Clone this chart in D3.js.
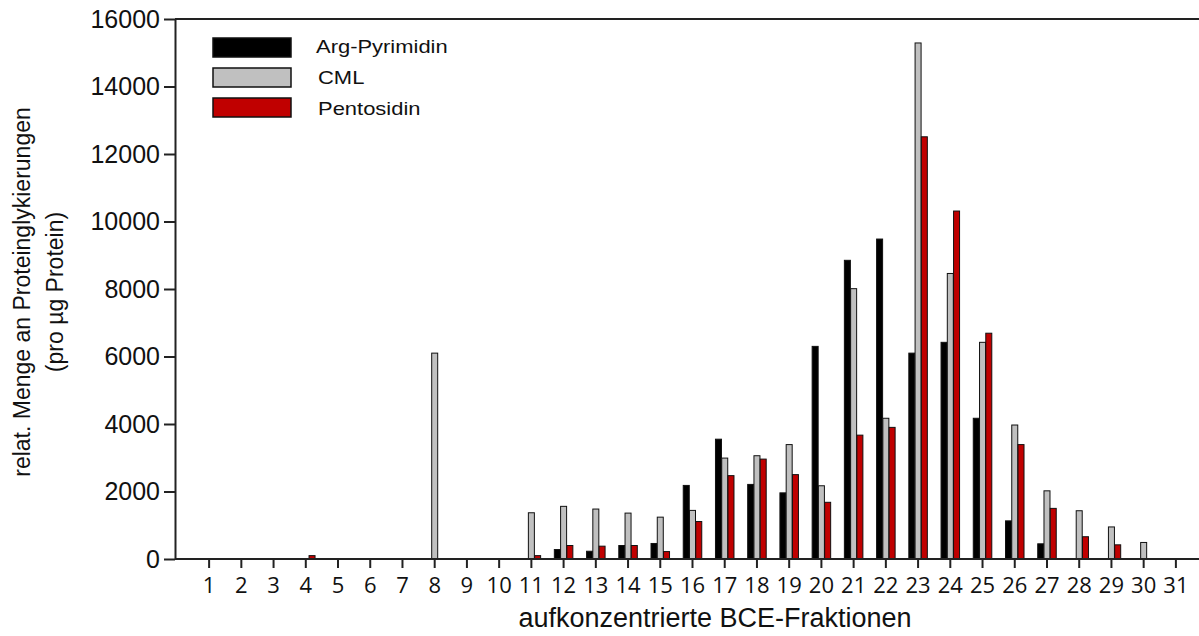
<!DOCTYPE html>
<html>
<head>
<meta charset="utf-8">
<script src="https://cdn.jsdelivr.net/npm/d3@7"></script>
<style>
  body { margin: 0; background: #fff; }
  text { font-family: "Liberation Sans", Arial, sans-serif; }
</style>
</head>
<body>
<div id="chart"></div>
<script>
// Chart data
var fractions = d3.range(1, 32);
var seriesNames = ["Arg-Pyrimidin", "CML", "Pentosidin"];
var seriesColors = ["#000000", "#c0c0c0", "#c00000"];
var argPyrimidin = [0, 0, 0, 0, 0, 0, 0, 0, 0, 0, 0, 280, 230, 400, 460, 2180, 3550, 2210, 1960, 6300, 8850, 9480, 6100, 6420, 4170, 1130, 450, 0, 0, 0, 0];
var cml = [0, 0, 0, 0, 0, 0, 0, 6100, 0, 0, 1370, 1560, 1480, 1360, 1240, 1440, 2990, 3060, 3390, 2170, 8010, 4170, 15290, 8460, 6420, 3970, 2020, 1430, 950, 490, 0];
var pentosidin = [0, 0, 0, 100, 0, 0, 0, 0, 0, 0, 100, 400, 380, 400, 220, 1110, 2470, 2960, 2500, 1680, 3670, 3900, 12510, 10310, 6690, 3390, 1500, 660, 420, 0, 0];
var yTicks = [0, 2000, 4000, 6000, 8000, 10000, 12000, 14000, 16000];

var seriesValues = [argPyrimidin, cml, pentosidin];

// Vars for viz sizing
var margin = {top: 19, right: 0, bottom: 77, left: 175};
var width = 1199 - margin.left - margin.right;
var height = 636 - margin.top - margin.bottom;

var svg = d3.select("#chart")
  .append("svg")
    .attr("width", 1199)
    .attr("height", 636)
  .append("g")
    .attr("transform", "translate(" + margin.left + "," + margin.top + ")");

// Scales
var x = d3.scaleBand()
  .domain(fractions)
  .range([18, 1017])
  .paddingInner(0.41)
  .paddingOuter(0.205);

var xSub = d3.scaleBand()
  .domain(seriesNames)
  .range([0, x.bandwidth()])
  .padding(0.04);

var y = d3.scaleLinear()
  .domain([0, 16000])
  .range([height, 0]);

// Bars
var rows = [];
fractions.forEach(function(f, i) {
  seriesNames.forEach(function(s, j) {
    if (seriesValues[j][i] > 0) rows.push({f: f, s: s, v: seriesValues[j][i], c: seriesColors[j]});
  });
});

svg.append("g")
  .selectAll("rect")
  .data(rows)
  .enter()
  .append("rect")
    .attr("x", function(d) { return x(d.f) + xSub(d.s); })
    .attr("y", function(d) { return y(d.v); })
    .attr("width", xSub.bandwidth())
    .attr("height", function(d) { return height - y(d.v); })
    .attr("fill", function(d) { return d.c; })
    .attr("stroke", "#111")
    .attr("stroke-width", 1);

// Frame line on top
svg.append("line")
  .attr("x1", 0).attr("x2", width)
  .attr("y1", 0).attr("y2", 0)
  .attr("stroke", "#222")
  .attr("stroke-width", 2);

// X axis
var xAxis = svg.append("g")
  .attr("transform", "translate(0," + height + ")")
  .call(d3.axisBottom(x).tickSize(9).tickPadding(9).tickSizeOuter(0));
xAxis.select(".domain").remove();
xAxis.append("line")
  .attr("x1", 0).attr("x2", width)
  .attr("stroke", "#222")
  .attr("stroke-width", 2);
xAxis.selectAll(".tick line").attr("stroke", "#222").attr("stroke-width", 2);
xAxis.selectAll(".tick text")
  .style("font-family", "'Open Sans', sans-serif")
  .style("font-size", "22px")
  .attr("fill", "#111");

// Y axis
var yAxis = svg.append("g")
  .call(d3.axisLeft(y).tickValues(yTicks).tickFormat(d3.format("d")).tickSize(11).tickPadding(4).tickSizeOuter(0));
yAxis.select(".domain").attr("stroke", "#222").attr("stroke-width", 2);
yAxis.selectAll(".tick line").attr("stroke", "#222").attr("stroke-width", 2);
yAxis.selectAll(".tick text")
  .style("font-size", "25px")
  .attr("fill", "#111");

// Axis titles
svg.append("text")
  .attr("transform", "translate(540," + (height + 68) + ")")
  .attr("text-anchor", "middle")
  .style("font-size", "27px")
  .attr("fill", "#111")
  .text("aufkonzentrierte BCE-Fraktionen");

var yTitle = svg.append("text")
  .attr("transform", "translate(-145," + 273 + ") rotate(-90)")
  .attr("text-anchor", "middle")
  .style("font-size", "23px")
  .attr("fill", "#111");
yTitle.append("tspan").attr("x", 0).attr("dy", 0).text("relat. Menge an Proteinglykierungen");
yTitle.append("tspan").attr("x", 0).attr("dy", 33).text("(pro µg Protein)");

// Legend
var legend = svg.append("g")
  .selectAll("g")
  .data(seriesNames)
  .enter()
  .append("g")
    .attr("transform", function(d, i) { return "translate(38," + (19 + i * 30) + ")"; });

legend.append("rect")
  .attr("width", 78)
  .attr("height", 19)
  .attr("fill", function(d, i) { return seriesColors[i]; })
  .attr("stroke", "#111")
  .attr("stroke-width", 1.5);

legend.append("text")
  .attr("transform", function(d, i) { return "translate(" + (i === 0 ? 103 : 105) + "," + (15 + i) + ") scale(1.22,1)"; })
  .style("font-size", "18px")
  .attr("fill", "#111")
  .text(function(d) { return d; });
</script>
</body>
</html>
